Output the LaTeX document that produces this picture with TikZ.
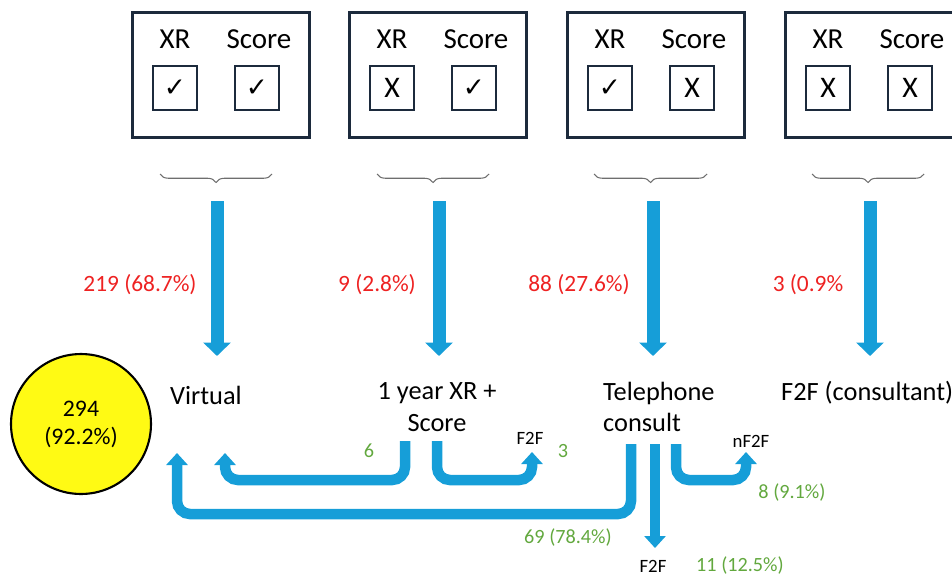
\documentclass[tikz,border=0pt]{standalone}
\usepackage{fontspec}
\setmainfont{Carlito}
\newfontfamily\symfont{DejaVu Sans}
\usetikzlibrary{arrows.meta,decorations.pathreplacing}
\definecolor{fublue}{RGB}{22,158,216}
\definecolor{fured}{RGB}{238,34,34}
\definecolor{fugreen}{RGB}{98,168,62}
\definecolor{funavy}{RGB}{28,42,60}
\definecolor{fubrace}{RGB}{110,110,110}
\definecolor{fuyellow}{RGB}{255,250,20}
\newcommand{\yesmark}{{\symfont\fontsize{15}{15}\selectfont ✓}}
\newcommand{\nomark}{X}
\tikzset{
  groupbox/.style={draw=funavy, line width=1.7pt, minimum width=3.54cm, minimum height=2.52cm, inner sep=0pt},
  tickbox/.style={draw=funavy, line width=1.1pt, minimum size=0.88cm, inner sep=0pt, font=\fontsize{17}{18}\selectfont},
  headtext/.style={font=\fontsize{16.5}{19}\selectfont},
  outcome/.style={font=\fontsize{15}{18}\selectfont},
  redcount/.style={text=fured, font=\fontsize{13.3}{16}\selectfont},
  greencount/.style={text=fugreen, font=\fontsize{11.5}{14}\selectfont},
  smalllabel/.style={font=\fontsize{10.7}{13}\selectfont},
  groupbrace/.style={draw=fubrace, line width=0.6pt, decorate, decoration={brace, amplitude=0.17cm}},
  bigarrow/.style={draw=fublue, line width=0.26cm, -{Triangle[width=0.54cm, length=0.27cm]}},
  smallarrow/.style={draw=fublue, line width=0.21cm, rounded corners=0.26cm, -{Triangle[width=0.42cm, length=0.24cm]}}
}
\begin{document}
\begin{tikzpicture}[x=0.02cm, y=-0.02cm]
    \useasboundingbox (0,0) rectangle (952,578);
    % top boxes
    \node[groupbox] (box1) at (221,75) {};
    \node[headtext] (xr1) at (175,39) {XR};
    \node[headtext] (sc1) at (259,39) {Score};
    \node[tickbox] (xrb1) at (175,88) {\yesmark};
    \node[tickbox] (scb1) at (257,88) {\yesmark};
    \node[groupbox] (box2) at (438,75) {};
    \node[headtext] (xr2) at (392,39) {XR};
    \node[headtext] (sc2) at (476,39) {Score};
    \node[tickbox] (xrb2) at (392,88) {\nomark};
    \node[tickbox] (scb2) at (474,88) {\yesmark};
    \node[groupbox] (box3) at (656,75) {};
    \node[headtext] (xr3) at (610,39) {XR};
    \node[headtext] (sc3) at (694,39) {Score};
    \node[tickbox] (xrb3) at (610,88) {\yesmark};
    \node[tickbox] (scb3) at (692,88) {\nomark};
    \node[groupbox] (box4) at (874,75) {};
    \node[headtext] (xr4) at (828,39) {XR};
    \node[headtext] (sc4) at (912,39) {Score};
    \node[tickbox] (xrb4) at (828,88) {\nomark};
    \node[tickbox] (scb4) at (910,88) {\nomark};
    % braces
    \draw[groupbrace] (272,174) -- (160,174);
    \draw[groupbrace] (489,174) -- (377,174);
    \draw[groupbrace] (707,174) -- (594,174);
    \draw[groupbrace] (924,174) -- (812,174);
    % main arrows
    \coordinate (top1) at (217,201);
    \coordinate (end1) at (217,356);
    \coordinate (top2) at (439,201);
    \coordinate (end2) at (439,356);
    \coordinate (top3) at (653,201);
    \coordinate (end3) at (653,356);
    \coordinate (top4) at (870,201);
    \coordinate (end4) at (870,356);
    \draw[bigarrow] (top1) -- (end1);
    \draw[bigarrow] (top2) -- (end2);
    \draw[bigarrow] (top3) -- (end3);
    \draw[bigarrow] (top4) -- (end4);
    \node[redcount] (n219) at (140,285) {219 (68.7\%)};
    \node[redcount] (n9) at (377,285) {9 (2.8\%)};
    \node[redcount] (n88) at (579,285) {88 (27.6\%)};
    \node[redcount] (n3) at (808,285) {3 (0.9\%};
    % outcomes
    \node[circle, draw=black, line width=1.2pt, fill=fuyellow, minimum size=2.8cm,
          align=center, font=\fontsize{13.5}{16}\selectfont] (total) at (81,424) {294\\(92.2\%)};
    \node[outcome] (virt) at (206,395) {Virtual};
    \node[outcome, align=center] (year) at (437,407) {1 year XR +\\Score};
    \node[outcome, align=left, anchor=west] (tele) at (597,407) {Telephone\\consult};
    \node[outcome, anchor=west] (f2fc) at (775,393) {F2F (consultant)};
    % follow-up arrows
    \coordinate (ys1) at (405,441);
    \coordinate (ye1) at (225,453);
    \coordinate (ys2) at (437,441);
    \coordinate (ye2) at (532,452);
    \coordinate (ts1) at (631,444);
    \coordinate (te1) at (177,453);
    \coordinate (ts2) at (655,444);
    \coordinate (te2) at (655,548);
    \coordinate (ts3) at (676,444);
    \coordinate (te3) at (746,452);
    \draw[smallarrow] (ys1) -- ++(0,39) -| (ye1);
    \draw[smallarrow] (ys2) -- ++(0,39) -| (ye2);
    \draw[smallarrow] (ts1) -- ++(0,70) -| (te1);
    \draw[smallarrow] (ts2) -- (te2);
    \draw[smallarrow] (ts3) -- ++(0,36) -| (te3);
    \node[greencount] (n6) at (369,451) {6};
    \node[smalllabel] (yf2f) at (530,438) {F2F};
    \node[greencount] (n3b) at (563,451) {3};
    \node[greencount] (n69) at (568,538) {69 (78.4\%)};
    \node[smalllabel] (tf2f) at (653,566) {F2F};
    \node[greencount] (n11) at (740,566) {11 (12.5\%)};
    \node[smalllabel] (tnf2f) at (751,441) {nF2F};
    \node[greencount] (n8) at (792,493) {8 (9.1\%)};
  \end{tikzpicture}
\end{document}
